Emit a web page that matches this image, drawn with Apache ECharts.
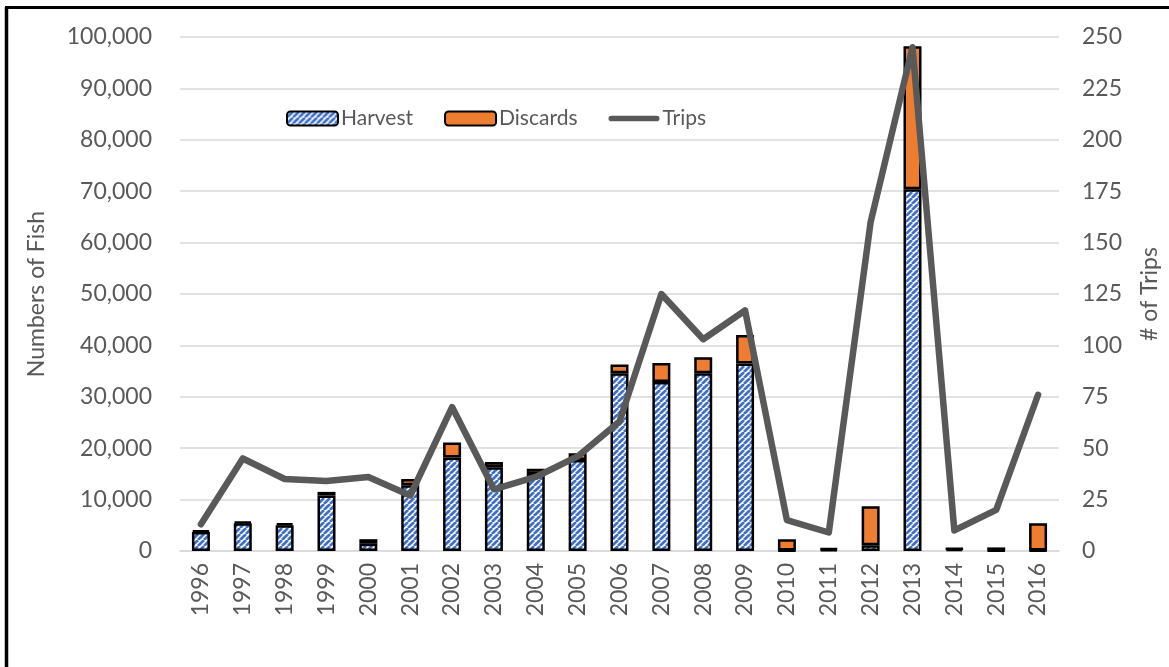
<!DOCTYPE html>
<html>
<head>
<meta charset="utf-8">
<script src="https://cdn.jsdelivr.net/npm/echarts@6/dist/echarts.min.js"></script>
<style>
  html, body { margin: 0; padding: 0; background: #ffffff; }
  #chart { width: 1169px; height: 667px; }
</style>
</head>
<body>
<div id="chart"></div>
<script>
// Recreational catch and trips by year
const years = ['1996','1997','1998','1999','2000','2001','2002','2003','2004','2005','2006',
               '2007','2008','2009','2010','2011','2012','2013','2014','2015','2016'];
const harvest = [3700, 5400, 5000, 10800, 1400, 12800, 18200, 16300, 15000, 17700, 34600,
                 32900, 34600, 36500, 100, 300, 1100, 70400, 400, 100, 100];
const discards = [300, 300, 400, 700, 900, 1200, 2900, 1000, 1000, 1300, 1700,
                  3700, 3100, 5500, 2200, 200, 7600, 27800, 100, 600, 5300];
const trips = [13, 45, 35, 34, 36, 27, 70, 30, 36, 46, 63,
               125, 103, 117, 15, 9, 160, 245, 10, 20, 76];
const fishTicks = { min: 0, max: 100000, interval: 10000 };
const tripTicks = { min: 0, max: 250, interval: 25 };

// Diagonal blue hatching for the harvest bars
function hatchCanvas() {
  const c = document.createElement('canvas');
  const s = 6;
  c.width = s; c.height = s;
  const g = c.getContext('2d');
  g.fillStyle = '#ffffff';
  g.fillRect(0, 0, s, s);
  g.strokeStyle = '#3F6FC6';
  g.lineWidth = 2.7;
  g.beginPath();
  for (let k = -1; k <= 1; k++) {
    g.moveTo(k * s, s);
    g.lineTo(k * s + s, 0);
  }
  g.stroke();
  return c;
}
const hatch = { image: hatchCanvas(), repeat: 'repeat' };

const textColor = '#595959';
const fontFamily = 'Lato, "Open Sans", sans-serif';
const withCommas = v => String(v).replace(/\B(?=(\d{3})+(?!\d))/g, ',');

const chart = echarts.init(document.getElementById('chart'), null, { renderer: 'canvas' });
chart.setOption({
  backgroundColor: '#ffffff',
  animation: false,
  textStyle: { fontFamily: fontFamily, color: textColor },
  graphic: [
    { type: 'line', shape: { x1: 6.5, y1: 7, x2: 6.5, y2: 667 }, style: { stroke: '#000', lineWidth: 3.5 } },
    { type: 'line', shape: { x1: 5, y1: 7.5, x2: 1169, y2: 7.5 }, style: { stroke: '#000', lineWidth: 3 } }
  ],
  legend: {
    left: 281, top: 103,
    itemWidth: 51, itemHeight: 14, itemGap: 31,
    textStyle: { fontFamily: fontFamily, fontSize: 21, color: textColor, padding: [0, 0, 0, -2] },
    data: [
      { name: 'Harvest' },
      { name: 'Discards' },
      { name: 'Trips', icon: 'path://M3,0 L51,0 A3,3 0 0 1 51,6 L3,6 A3,3 0 0 1 3,0 Z' }
    ]
  },
  grid: { left: 180, right: 99, top: 37, bottom: 116 },
  xAxis: {
    type: 'category',
    data: years,
    axisLine: { show: true, lineStyle: { color: '#d9d9d9', width: 1.5 } },
    axisTick: { show: false },
    axisLabel: { rotate: 90, margin: 12, fontSize: 23, color: textColor, fontFamily: fontFamily }
  },
  yAxis: [
    {
      type: 'value',
      min: fishTicks.min, max: fishTicks.max, interval: fishTicks.interval,
      name: 'Numbers of Fish', nameLocation: 'middle', nameGap: 132,
      nameTextStyle: { fontSize: 23, color: textColor, fontFamily: fontFamily },
      axisLine: { show: false }, axisTick: { show: false },
      axisLabel: { margin: 28, fontSize: 23, color: textColor, fontFamily: fontFamily, formatter: withCommas },
      splitLine: { lineStyle: { color: '#d9d9d9', width: 1.5 } }
    },
    {
      type: 'value',
      min: tripTicks.min, max: tripTicks.max, interval: tripTicks.interval,
      name: '# of Trips', nameLocation: 'middle', nameGap: 79,
      nameTextStyle: { fontSize: 23, color: textColor, fontFamily: fontFamily },
      axisLine: { show: false }, axisTick: { show: false },
      axisLabel: { margin: 23, fontSize: 23, color: textColor, fontFamily: fontFamily },
      splitLine: { show: false }
    }
  ],
  series: [
    {
      name: 'Harvest', type: 'bar', stack: 'catch', data: harvest, barWidth: 18,
      itemStyle: { color: hatch, borderColor: '#000', borderWidth: 2.5 }
    },
    {
      name: 'Discards', type: 'bar', stack: 'catch', data: discards, barWidth: 18,
      itemStyle: { color: '#ED7D31', borderColor: '#000', borderWidth: 2.5 }
    },
    {
      name: 'Trips', type: 'line', yAxisIndex: 1, data: trips,
      symbol: 'none', showSymbol: false, z: 5,
      lineStyle: { color: '#595959', width: 6.5, join: 'round', cap: 'round' },
      itemStyle: { color: '#595959' }
    }
  ]
});
</script>
</body>
</html>
